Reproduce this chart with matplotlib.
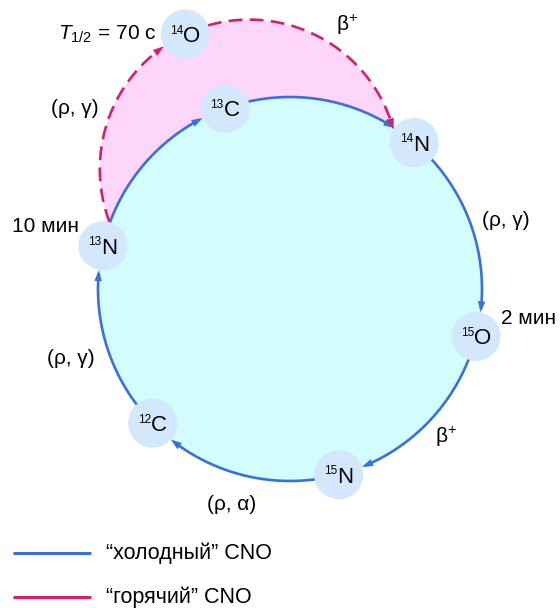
import numpy as np
import matplotlib
matplotlib.use("Agg")
import matplotlib.pyplot as plt
from matplotlib.patches import Circle, Polygon, FancyArrowPatch

plt.rcParams.update({
    "font.family": "Liberation Sans",
    "mathtext.fontset": "custom",
    "mathtext.rm": "Liberation Sans",
    "mathtext.it": "Liberation Sans:italic",
})

# ---------------------------------------------------------------------------
# data: cold CNO cycle nodes (mass number, element, angle on cycle circle, deg)
# ---------------------------------------------------------------------------
node_mass = ["13", "13", "14", "15", "15", "12"]
node_elem = ["N", "C", "N", "O", "N", "C"]
node_angle = [193.0, 250.25, 310.3, 374.3, 435.3, 495.7]

# hot CNO branch node (14O), angle on the hot-branch arc
hot_mass, hot_elem = "14", "O"
hot_angle = 244.6

# reaction labels (cold steps: 14N->15O, 15O->15N, 15N->12C, 12C->13N; hot: 13N->14O, 14O->14N)
reaction_text = ["(ρ, γ)", "β$^{+}$", "(ρ, α)", "(ρ, γ)", "(ρ, γ)", "β$^{+}$"]
reaction_xy = [(506, 221), (446, 437), (232, 504), (71, 358), (75, 109), (347, 25)]

# half-lives
halflife_text = ["10 мин", "2 мин"]
halflife_xy = [(45, 227), (529, 319)]
hot_halflife = r"$T_{1/2}$ = 70 с"

legend_text = ["“холодный” CNO", "“горячий” CNO"]

# ---------------------------------------------------------------------------
# styles / layout (pixel units, y down)
# ---------------------------------------------------------------------------
centre = (290.0, 289.0)
R = 192.0
hot_centre = (249.3, 169.1)
HR = 149.5
r_node = 24.5
blue = "#3b6fdc"
crimson = "#d6206a"
cyan = "#d3fcfd"
pink = "#fdd6f9"
node_fc = "#d3e8fc"


def pt(c, rad, ang):
    a = np.radians(ang)
    return c[0] + rad * np.cos(a), c[1] + rad * np.sin(a)


def arc(c, rad, a0, a1, n=200):
    t = np.radians(np.linspace(a0, a1, n))
    return c[0] + rad * np.cos(t), c[1] + rad * np.sin(t)


def leave_node(c, rad, node_xy, a_from, a_to):
    # first angle (going from a_from to a_to) where the arc is outside the node disc
    t = np.linspace(a_from, a_to, 4000)
    x, y = arc(c, rad, a_from, a_to, 4000)
    d = np.hypot(x - node_xy[0], y - node_xy[1])
    return t[np.argmax(d >= r_node)]


def head(ax, c, rad, tip, color, step):
    a = pt(c, rad, tip - step)
    b = pt(c, rad, tip)
    ax.add_patch(FancyArrowPatch(a, b, arrowstyle="-|>,head_length=0.8,head_width=0.27",
                                 mutation_scale=10, color=color, lw=0,
                                 shrinkA=0, shrinkB=0, zorder=3))


def node(ax, x, y, mass, elem):
    ax.add_patch(Circle((x, y), r_node, fc=node_fc, ec="none", zorder=4))
    wl = {"C": 0.722, "N": 0.722, "O": 0.778}[elem] * 22.2
    wn = len(mass) * 0.556 * 11.8
    x0 = x - (wl + wn) / 2
    ax.text(x0, y - 0.5, mass, fontsize=8.5, ha="left", va="baseline", zorder=5)
    ax.text(x0 + wn, y + 8, elem, fontsize=16, ha="left", va="baseline", zorder=5)


fig = plt.figure(figsize=(5.6, 6.08), dpi=100)
ax = fig.add_axes([0, 0, 1, 1])
ax.set_xlim(0, 560)
ax.set_ylim(608, 0)
ax.axis("off")

pos = [pt(centre, R, a) for a in node_angle]
hot_pos = pt(hot_centre, HR, hot_angle)

# where the hot arc leaves 13N and reaches 14N
a_near13 = np.degrees(np.arctan2(pos[0][1] - hot_centre[1], pos[0][0] - hot_centre[0])) % 360
a_near14 = np.degrees(np.arctan2(pos[2][1] - hot_centre[1], pos[2][0] - hot_centre[0])) % 360
h_start = leave_node(hot_centre, HR, pos[0], a_near13, hot_angle)
h_end = leave_node(hot_centre, HR, pos[2], a_near14, hot_angle)

# pink lens between hot arc and cycle
hx, hy = arc(hot_centre, HR, h_start, h_end)
cx_, cy_ = arc(centre, R, node_angle[2], node_angle[0])
ax.add_patch(Polygon(np.column_stack([np.r_[pos[0][0], hx, pos[2][0], cx_],
                                      np.r_[pos[0][1], hy, pos[2][1], cy_]]),
                     fc=pink, ec="none", zorder=1))
ax.add_patch(Circle(centre, R, fc=cyan, ec="none", zorder=1.5))

# cold cycle arrows
off = np.degrees(2 * np.arcsin(r_node / (2 * R)))
angles = node_angle + [node_angle[0] + 360]
for i in range(len(node_angle)):
    a0, a1 = angles[i], angles[i + 1]
    x, y = arc(centre, R, a0, a1 - off - 1)
    ax.plot(x, y, color=blue, lw=1.9, solid_capstyle="butt", zorder=2)
    head(ax, centre, R, a1 - off, blue, 3)

# hot branch (dashed)
hoff = np.degrees(2 * np.arcsin(r_node / (2 * HR)))
for a0, a1 in [(h_start, hot_angle - hoff), (hot_angle + hoff, h_end)]:
    x, y = arc(hot_centre, HR, a0, a1 - 1.5)
    ax.plot(x, y, color=crimson, lw=1.9, dashes=(5.2, 2.8), zorder=2.5)
    head(ax, hot_centre, HR, a1, crimson, 3)

for (x, y), m, e in zip(pos, node_mass, node_elem):
    node(ax, x, y, m, e)
node(ax, hot_pos[0], hot_pos[1], hot_mass, hot_elem)

for t, (x, y) in zip(reaction_text, reaction_xy):
    ax.text(x, y, t, fontsize=15, ha="center", va="center")
for t, (x, y) in zip(halflife_text, halflife_xy):
    ax.text(x, y, t, fontsize=15, ha="center", va="center")
ax.text(156, 40, hot_halflife, fontsize=15, ha="right", va="baseline")

# legend
for (t, col, y) in zip(legend_text, [blue, crimson], [553, 597]):
    ax.plot([13, 91], [y, y], color=col, lw=2.2, solid_capstyle="butt")
    ax.text(106, y, t, fontsize=15.5, ha="left", va="center")

fig.savefig("out.png", dpi=100)
